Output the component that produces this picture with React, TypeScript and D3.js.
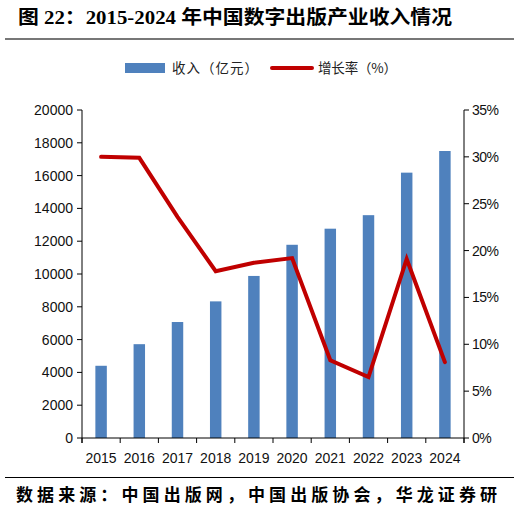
import React from "react";
import * as d3 from "d3";

const years = ["2015", "2016", "2017", "2018", "2019", "2020", "2021", "2022", "2023", "2024"];
const revenue = [4403.85, 5720.85, 7071.93, 8330.78, 9881.43, 11781.67, 12762.64, 13586.99, 16179.68, 17500];
const growth = [30.0, 29.9, 23.6, 17.8, 18.7, 19.2, 8.3, 6.5, 19.1, 8.1];
const leftTicks = [0, 2000, 4000, 6000, 8000, 10000, 12000, 14000, 16000, 18000, 20000];
const rightTicks = [0, 5, 10, 15, 20, 25, 30, 35];

const titleText = "图 22：2015-2024 年中国数字出版产业收入情况";
const sourceText = "数据来源：中国出版网，中国出版协会，华龙证券研";
const legendBar = "收入（亿元）";
const legendLine = "增长率（%）";

const W = 523;
const H = 517;
const plot = { left: 82, right: 464, top: 110, bottom: 438 };

export default function App() {
  const x = d3.scaleBand<string>().domain(years).range([plot.left, plot.right]).paddingInner(0).paddingOuter(0);
  const yL = d3.scaleLinear().domain([0, 20000]).range([plot.bottom, plot.top]);
  const yR = d3.scaleLinear().domain([0, 35]).range([plot.bottom, plot.top]);
  const barW = x.bandwidth() * 0.3;
  const cx = (y: string) => (x(y) as number) + x.bandwidth() / 2;

  const line = d3
    .line<number>()
    .x((_, i) => cx(years[i]))
    .y((d) => yR(d));

  const boundaries = d3.range(years.length + 1).map((i) => plot.left + i * x.bandwidth());
  const axisFont = "'Liberation Sans', Arial, sans-serif";
  const cjkFont = "'Liberation Serif', 'Noto Sans CJK SC', serif";

  return (
    <svg width={W} height={H} style={{ position: "absolute", left: 0, top: 0, background: "#fff" }}>
      <rect x={0} y={0} width={W} height={H} fill="#fff" />
      {/* title */}
      <text x={18} y={24} fontFamily={cjkFont} fontWeight="bold" fontSize={19} fill="#000" textLength={434} lengthAdjust="spacingAndGlyphs">
        {titleText}
      </text>
      <line x1={5} x2={514} y1={39} y2={39} stroke="#777" strokeWidth={2} />

      {/* legend */}
      <rect x={125} y={63} width={40} height={10} fill="#4f81bd" />
      <text x={172} y={73} fontFamily="'Noto Sans CJK SC', sans-serif" fontSize={13.5} fill="#222" textLength={86} lengthAdjust="spacing">
        {legendBar}
      </text>
      <line x1={272} x2={312} y1={68} y2={68} stroke="#c00000" strokeWidth={4} strokeLinecap="round" />
      <text x={318} y={73} fontFamily="'Noto Sans CJK SC', sans-serif" fontSize={13.5} fill="#222" textLength={79} lengthAdjust="spacing">
        {legendLine}
      </text>

      {/* bars */}
      {revenue.map((v, i) => (
        <rect key={years[i]} x={cx(years[i]) - barW / 2} y={yL(v)} width={barW} height={plot.bottom - yL(v)} fill="#4f81bd" />
      ))}

      {/* growth line */}
      <path d={line(growth) || ""} fill="none" stroke="#c00000" strokeWidth={4} strokeLinejoin="miter" strokeLinecap="round" />

      {/* left axis */}
      <line x1={plot.left} x2={plot.left} y1={plot.top} y2={plot.bottom + 5} stroke="#000" strokeWidth={1} />
      {leftTicks.map((t) => (
        <g key={"l" + t}>
          <line x1={plot.left - 5} x2={plot.left} y1={yL(t)} y2={yL(t)} stroke="#000" />
          <text x={plot.left - 9} y={yL(t) + 5} textAnchor="end" fontFamily={axisFont} fontSize={14} fill="#111">
            {t}
          </text>
        </g>
      ))}

      {/* right axis */}
      <line x1={plot.right} x2={plot.right} y1={plot.top} y2={plot.bottom + 5} stroke="#000" strokeWidth={1} />
      {rightTicks.map((t) => (
        <g key={"r" + t}>
          <line x1={plot.right} x2={plot.right + 5} y1={yR(t)} y2={yR(t)} stroke="#000" />
          <text x={plot.right + 8} y={yR(t) + 5} textAnchor="start" fontFamily={axisFont} fontSize={14} fill="#111" letterSpacing={-0.5}>
            {t + "%"}
          </text>
        </g>
      ))}

      {/* x axis */}
      <line x1={plot.left} x2={plot.right} y1={plot.bottom} y2={plot.bottom} stroke="#000" />
      {boundaries.map((b, i) => (
        <line key={"b" + i} x1={b} x2={b} y1={plot.bottom} y2={plot.bottom + 5} stroke="#000" />
      ))}
      {years.map((yr) => (
        <text key={"x" + yr} x={cx(yr)} y={463} textAnchor="middle" fontFamily={axisFont} fontSize={14} fill="#111">
          {yr}
        </text>
      ))}

      {/* source */}
      <line x1={5} x2={514} y1={477.5} y2={477.5} stroke="#000" strokeWidth={1} />
      <text x={16} y={501} fontFamily={cjkFont} fontWeight="bold" fontSize={17} fill="#000" textLength={481} lengthAdjust="spacing">
        {sourceText}
      </text>
    </svg>
  );
}
